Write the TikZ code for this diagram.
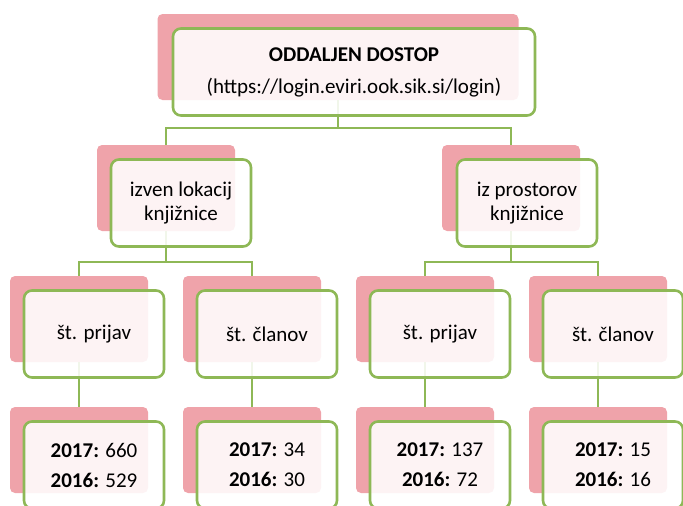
\documentclass[tikz,border=0pt]{standalone}
\usepackage{fontspec}
\setmainfont{Carlito}
\definecolor{backpink}{HTML}{EFA3AA}
\definecolor{boxgreen}{HTML}{8EB856}

\begin{document}
\begin{tikzpicture}[x=1pt, y=-1pt,
  back/.style={fill=backpink, rounded corners=5pt, minimum width=138pt, minimum height=86pt, inner sep=0pt},
  front/.style={draw=boxgreen, line width=2.6pt, fill=white, fill opacity=0.88, text opacity=1, rounded corners=8pt, minimum width=140pt, minimum height=87pt, align=center, font=\fontsize{21}{24}\selectfont},
  link/.style={draw=boxgreen, line width=2.5pt}]
\useasboundingbox (0,0) rectangle (683,506);
\node[back, minimum width=361pt] (b0) at (338,57) {};
\node[back] (b1) at (166,188) {};
\node[back] (b2) at (511,188) {};
\foreach \x [count=\i] in {79,252,425,598} {
  \node[back] (s\i) at (\x,319) {};
  \node[back] (n\i) at (\x,450) {};
}
\draw[link] (b0.south) -- ++(0,28) -| (b1.north);
\draw[link] (b0.south) -- ++(0,28) -| (b2.north);
\draw[link] (b1.south) -- ++(0,31) -| (s1.north);
\draw[link] (b1.south) -- ++(0,31) -| (s2.north);
\draw[link] (b2.south) -- ++(0,31) -| (s3.north);
\draw[link] (b2.south) -- ++(0,31) -| (s4.north);
\foreach \i in {1,...,4}
  \draw[link] (s\i.south) -- (n\i.north);
\node[front, minimum width=362pt] (f0) at ([shift={(16,15)}]b0.center) {\textbf{ODDALJEN DOSTOP}\\[8pt](https://login.eviri.ook.sik.si/login)};
\node[front] (f1) at ([shift={(15,15)}]b1.center) {izven lokacij\\knjižnice};
\node[front] (f2) at ([shift={(16,15)}]b2.center) {iz prostorov\\knjižnice};
\foreach \i/\lab in {1/{št. prijav}, 2/{št. članov}, 3/{št. prijav}, 4/{št. članov}}
  \node[front] (t\i) at ([shift={(15,15)}]s\i.center) {\lab};
\foreach \i/\a/\b in {1/660/529, 2/34/30, 3/137/72, 4/15/16}
  \node[front] (v\i) at ([shift={(15,15)}]n\i.center) {\textbf{2017:} \a\\[6pt]\textbf{2016:} \b};
\end{tikzpicture}
\end{document}
